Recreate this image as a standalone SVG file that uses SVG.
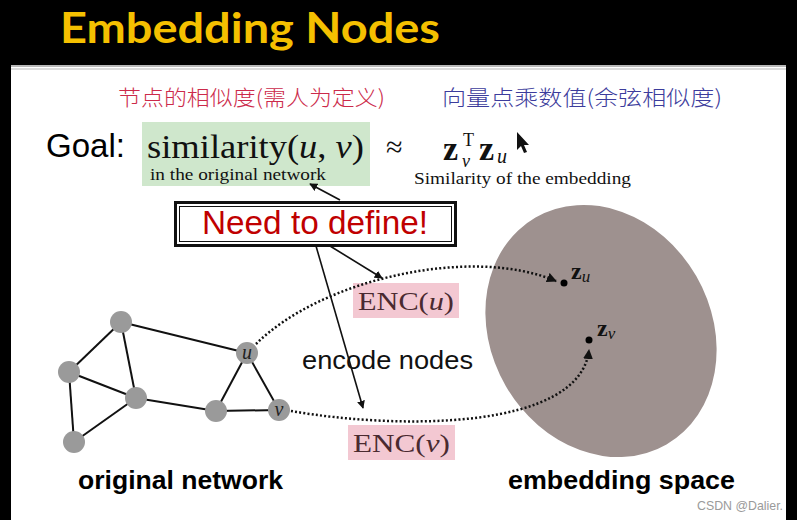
<svg xmlns="http://www.w3.org/2000/svg" width="797" height="520" viewBox="0 0 797 520">
<style>
  .serif { font-family: "Liberation Serif", "DejaVu Serif", serif; }
  .sans { font-family: "Liberation Sans", Arial, sans-serif; }
  .cjk { font-family: "Noto Sans CJK SC", sans-serif; font-weight: 300; }
  .edge { stroke: #111; stroke-width: 2; fill: none; }
  .gnode { fill: #9a9a9a; }
  .dotted { stroke: #111; stroke-width: 2.5; fill: none; stroke-dasharray: 2 2.2; }
  .arrow { stroke: #111; stroke-width: 1.6; fill: none; }
  .enc { fill: #f3c8d2; }
  .enctext { fill: #4a2a30; font-size: 26px; }
</style>
<defs>
  <marker id="ah" viewBox="0 0 10 10" refX="9" refY="5" markerWidth="8" markerHeight="8" markerUnits="userSpaceOnUse" orient="auto">
    <path d="M0,0 L10,5 L0,10 z" fill="#111"/>
  </marker>
  <marker id="ahd" viewBox="0 0 10 10" refX="9" refY="5" markerWidth="10" markerHeight="10" markerUnits="userSpaceOnUse" orient="auto">
    <path d="M0,0 L10,5 L0,10 z" fill="#111"/>
  </marker>
</defs>

<!-- background -->
<rect x="0" y="0" width="797" height="520" fill="#000"/>
<rect x="11" y="65" width="775" height="455" fill="#fff"/>
<rect x="11" y="65" width="775" height="2" fill="#b8b8b8"/>
<rect x="11" y="68" width="775" height="2" fill="#dcdcdc"/>

<!-- title -->
<text id="title" x="60" y="43" font-family="Lato, 'Open Sans', sans-serif" font-weight="bold" font-size="42" fill="#f5c000" textLength="380" lengthAdjust="spacingAndGlyphs">Embedding Nodes</text>

<!-- handwritten annotations -->
<text x="118" y="105" class="cjk" font-size="21" fill="#cc2a4a" textLength="267" lengthAdjust="spacingAndGlyphs">节点的相似度(需人为定义)</text>
<text x="442" y="105" class="cjk" font-size="21" fill="#3c3c9c" textLength="280" lengthAdjust="spacingAndGlyphs">向量点乘数值(余弦相似度)</text>

<!-- goal line -->
<g id="goal">
  <text x="46" y="157" class="sans" font-size="34" fill="#000" textLength="79" lengthAdjust="spacingAndGlyphs">Goal:</text>
  <rect x="142" y="122" width="228" height="64" fill="#cfe7cc"/>
  <text x="147" y="158" class="serif" font-size="34" fill="#111" textLength="217" lengthAdjust="spacingAndGlyphs">similarity(<tspan font-style="italic">u</tspan>, <tspan font-style="italic">v</tspan>)</text>
  <text x="150" y="180" class="serif" font-size="16" fill="#111" textLength="176" lengthAdjust="spacingAndGlyphs">in the original  network</text>
  <text x="386" y="157" class="serif" font-size="30" fill="#111">≈</text>
  <text x="443" y="160" class="serif" font-size="34" font-weight="bold" fill="#111">z</text>
  <text x="463" y="146" class="serif" font-size="18" fill="#111">T</text>
  <text x="462" y="167" class="serif" font-size="18" font-style="italic" fill="#111">v</text>
  <text x="479" y="160" class="serif" font-size="34" font-weight="bold" fill="#111">z</text>
  <text x="497" y="163" class="serif" font-size="20" font-style="italic" fill="#111">u</text>
  <path d="M517,132 L517,150 L521,146 L524,153 L527,152 L524,145 L529,145 Z" fill="#111"/>
  <text x="414" y="184" class="serif" font-size="16" fill="#111" textLength="217" lengthAdjust="spacingAndGlyphs">Similarity  of the embedding</text>
</g>

<!-- Need to define box -->
<g id="need">
  <rect x="175.5" y="202.5" width="280" height="43" fill="#fff" stroke="#111" stroke-width="3"/>
  <rect x="179.5" y="206.5" width="272" height="35" fill="none" stroke="#111" stroke-width="1"/>
  <text x="202" y="234" class="sans" font-size="34" fill="#c00000" textLength="226" lengthAdjust="spacingAndGlyphs">Need to define!</text>
</g>

<!-- embedding space -->
<g id="space">
  <ellipse cx="601" cy="331" rx="110" ry="131" transform="rotate(-30 601 331)" fill="#9e918f"/>
  <circle cx="564" cy="283" r="3.5" fill="#000"/>
  <text x="571" y="279" class="serif" font-size="24" font-weight="bold" fill="#111">z<tspan font-size="17" font-style="italic" font-weight="normal" dy="3">u</tspan></text>
  <circle cx="589" cy="340" r="3.5" fill="#000"/>
  <text x="597" y="336" class="serif" font-size="24" font-weight="bold" fill="#111">z<tspan font-size="17" font-style="italic" font-weight="normal" dy="3">v</tspan></text>
</g>

<!-- ENC boxes -->
<g id="encu">
  <rect x="353" y="283" width="106" height="35" class="enc"/>
  <text x="358" y="310" class="serif enctext" textLength="96" lengthAdjust="spacingAndGlyphs">ENC(<tspan font-style="italic">u</tspan>)</text>
</g>
<g id="encv">
  <rect x="348" y="425" width="107" height="35" class="enc"/>
  <text x="353" y="452" class="serif enctext" textLength="97" lengthAdjust="spacingAndGlyphs">ENC(<tspan font-style="italic">v</tspan>)</text>
</g>

<!-- graph edges -->
<g id="graph-edges">
  <line x1="121" y1="322" x2="247" y2="353" class="edge"/>
  <line x1="121" y1="322" x2="69" y2="372" class="edge"/>
  <line x1="121" y1="322" x2="136" y2="398" class="edge"/>
  <line x1="69" y1="372" x2="136" y2="398" class="edge"/>
  <line x1="69" y1="372" x2="74" y2="442" class="edge"/>
  <line x1="74" y1="442" x2="136" y2="398" class="edge"/>
  <line x1="136" y1="398" x2="216" y2="411" class="edge"/>
  <line x1="216" y1="411" x2="247" y2="353" class="edge"/>
  <line x1="216" y1="411" x2="279" y2="410" class="edge"/>
  <line x1="247" y1="353" x2="279" y2="410" class="edge"/>
</g>

<!-- graph nodes -->
<g id="n1"><circle cx="121" cy="322" r="11" class="gnode"/></g>
<g id="n2"><circle cx="69" cy="372" r="11" class="gnode"/></g>
<g id="n3"><circle cx="136" cy="398" r="11" class="gnode"/></g>
<g id="n4"><circle cx="74" cy="442" r="11" class="gnode"/></g>
<g id="n5"><circle cx="216" cy="411" r="11" class="gnode"/></g>
<g id="nu"><circle cx="247" cy="353" r="11" class="gnode"/><text x="247" y="359" text-anchor="middle" class="serif" font-size="20" font-style="italic" fill="#222">u</text></g>
<g id="nv"><circle cx="279" cy="410" r="11" class="gnode"/><text x="279" y="416" text-anchor="middle" class="serif" font-size="20" font-style="italic" fill="#222">v</text></g>

<!-- connectors -->
<g id="connectors">
  <line x1="340" y1="200" x2="310" y2="184" class="arrow" marker-end="url(#ah)"/>
  <line x1="330" y1="246" x2="382" y2="278" class="arrow" marker-end="url(#ah)"/>
  <line x1="316" y1="246" x2="363" y2="408" class="arrow" marker-end="url(#ah)"/>
  <path d="M256,344 C320,280 470,245 556,281" class="dotted" marker-end="url(#ahd)"/>
  <path d="M291,411 C400,430 580,430 589,350" class="dotted" marker-end="url(#ahd)"/>
</g>

<!-- labels -->
<text x="302" y="369" class="sans" font-size="26" fill="#111" textLength="171" lengthAdjust="spacingAndGlyphs">encode nodes</text>
<text x="78" y="489" class="sans" font-size="26" font-weight="bold" fill="#000" textLength="205" lengthAdjust="spacingAndGlyphs">original network</text>
<text x="508" y="489" class="sans" font-size="26" font-weight="bold" fill="#000" textLength="227" lengthAdjust="spacingAndGlyphs">embedding space</text>
<text x="697" y="510" class="sans" font-size="13" fill="#9a9a9a" textLength="86" lengthAdjust="spacingAndGlyphs">CSDN @Dalier.</text>
</svg>
